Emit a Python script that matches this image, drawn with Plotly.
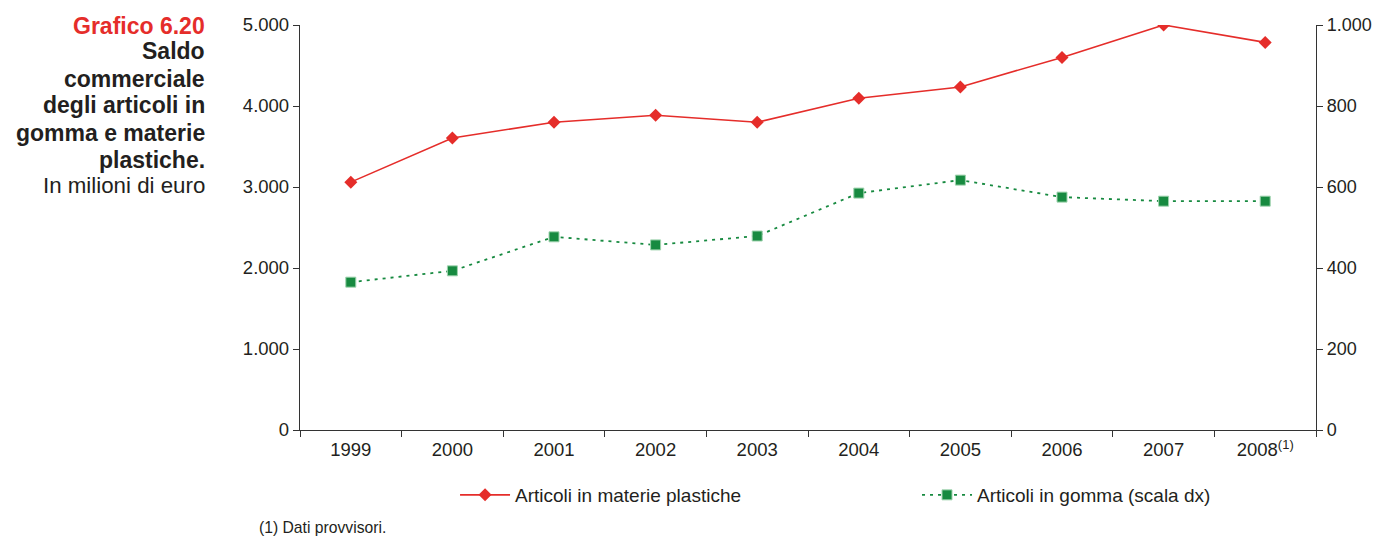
import plotly.graph_objects as go

years = ["1999", "2000", "2001", "2002", "2003", "2004", "2005", "2006", "2007", "2008"]
year_labels = ["1999", "2000", "2001", "2002", "2003", "2004", "2005", "2006", "2007",
               "2008<sup>(1)</sup>"]
plastiche = [3060, 3605, 3800, 3885, 3800, 4095, 4235, 4600, 5000, 4785]
gomma = [365, 393, 477, 457, 479, 585, 617, 575, 565, 565]

left_ticks = [0, 1000, 2000, 3000, 4000, 5000]
right_ticks = [0, 200, 400, 600, 800, 1000]

title_lines = ["Grafico 6.20", "Saldo", "commerciale", "degli articoli in",
               "gomma e materie", "plastiche.", "In milioni di euro"]

FONT = "Liberation Sans, Arial, Helvetica, sans-serif"
TXT = "#231f20"
RED = "#e52d2a"
GREEN = "#178a40"
AX = "#333333"

fig = go.Figure()
fig.add_trace(go.Scatter(
    x=years, y=plastiche, name="Articoli in materie plastiche",
    mode="lines+markers",
    line=dict(color=RED, width=1.6),
    marker=dict(symbol="diamond", size=10, color=RED),
    yaxis="y", legend="legend",
))
fig.add_trace(go.Scatter(
    x=years, y=gomma, name="Articoli in gomma (scala dx)",
    mode="lines+markers",
    line=dict(color=GREEN, width=1.8, dash="3px,5px"),
    marker=dict(symbol="square", size=10, color=GREEN,
                line=dict(color="#9fd3ae", width=1)),
    yaxis="y2", legend="legend2",
))

leg_common = dict(orientation="h", xanchor="left", y=-0.1605, yanchor="middle",
                  font=dict(size=19, color=TXT), bgcolor="rgba(0,0,0,0)", itemwidth=50)

# plot area sits at x 300..1316, y 25..430 of the page
fig.update_layout(
    width=1380, height=538,
    margin=dict(l=292, r=72, t=17, b=116, autoexpand=False),
    paper_bgcolor="white", plot_bgcolor="white",
    separators=",.",
    font=dict(family=FONT, size=18.5, color=TXT),
    showlegend=True,
    legend=dict(x=0.1526, **leg_common),
    legend2=dict(x=0.6073, **leg_common),
    xaxis=dict(
        type="category", categoryorder="array", categoryarray=years,
        range=[-0.5, 9.5], autorange=False,
        tickmode="array", tickvals=years, ticktext=year_labels,
        tickson="boundaries", ticks="outside", ticklen=6, tickcolor=AX,
        showline=True, linecolor=AX, linewidth=1.3, automargin=False,
        showgrid=False, zeroline=False, ticklabelstandoff=3,
        tickfont=dict(size=18.5, color=TXT),
    ),
    yaxis=dict(
        range=[0, 5000], autorange=False, tickvals=left_ticks, tickformat=",d",
        ticks="outside", ticklen=6, tickcolor=AX, automargin=False,
        showline=True, linecolor=AX, linewidth=1.3,
        showgrid=False, zeroline=False,
        tickfont=dict(size=18.5, color=TXT),
    ),
    yaxis2=dict(
        range=[0, 1000], autorange=False, tickvals=right_ticks, tickformat=",d",
        overlaying="y", side="right", automargin=False,
        ticks="outside", ticklen=6, tickcolor=AX,
        showline=True, linecolor=AX, linewidth=1.3,
        showgrid=False, zeroline=False, ticklabelstandoff=0,
        tickfont=dict(size=18, color=TXT),
    ),
    yaxis3=dict(
        range=[0, 1000], autorange=False, tickvals=right_ticks,
        overlaying="y", side="right", automargin=False,
        ticks="inside", ticklen=5, tickcolor=AX, showticklabels=False,
        showline=False, showgrid=False, zeroline=False,
    ),
)

title_y = [0.9975, 0.9358, 0.8667, 0.8025, 0.7333, 0.6667, 0.6025]
for i, (line, yy) in enumerate(zip(title_lines, title_y)):
    if i == 0:
        txt, col, size = "<b>%s</b>" % line, RED, 23
    elif i == len(title_lines) - 1:
        txt, col, size = line, TXT, 22.3
    else:
        txt, col, size = "<b>%s</b>" % line, TXT, 23
    fig.add_annotation(
        xref="paper", yref="paper", x=-0.0915, y=yy, xanchor="right", yanchor="middle",
        align="right", showarrow=False, text=txt,
        font=dict(family=FONT, size=size, color=col),
    )

fig.add_annotation(
    xref="paper", yref="paper", x=-0.042, y=-0.24, xanchor="left", yanchor="middle",
    showarrow=False, text="(1) Dati provvisori.",
    font=dict(family=FONT, size=15.7, color=TXT),
)

fig.write_html("out.html")
